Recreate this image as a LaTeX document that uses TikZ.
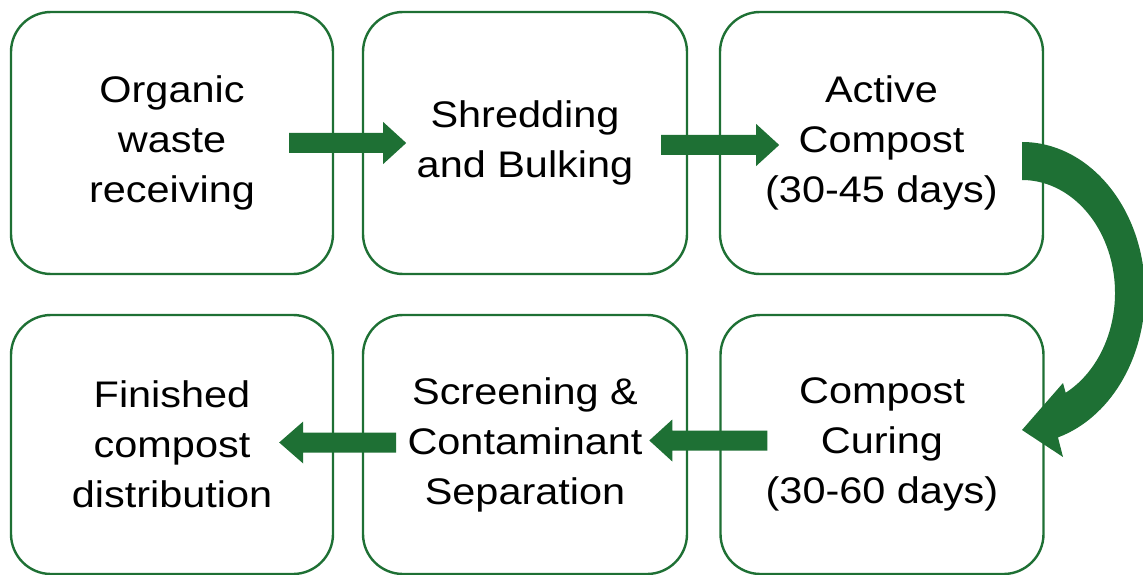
\documentclass[tikz,border=0pt]{standalone}
\usepackage{fontspec}
\setmainfont{Liberation Sans}[FakeStretch=1.12]
\usetikzlibrary{calc}
\definecolor{leaf}{RGB}{30,112,52}
\begin{document}
\begin{tikzpicture}[x=1pt,y=-1pt,
  stage/.style={draw=leaf, line width=2.4pt, rounded corners=40pt, fill=white,
    align=center, inner sep=0pt, font=\fontsize{37}{50}\selectfont,
    minimum width=322pt},
  toprow/.style={stage, minimum height=262pt},
  botrow/.style={stage, minimum height=259pt},
  blockarrow/.style={fill=leaf, draw=none}]
\useasboundingbox (0,0) rectangle (1143,575);
\clip (0,0) rectangle (1143,575);

% process stages
\node[toprow] (receive) at (172,143)   {Organic\\waste\\receiving};
\node[toprow, minimum width=324pt] (shred) at (525,143) {Shredding\\and Bulking};
\node[toprow, minimum width=323pt] (active) at (881.5,143) {Active\\Compost\\(30-45 days)};
\node[botrow] (distrib) at (172,444.5) {Finished\\compost\\distribution};
\node[botrow, minimum width=324pt] (screen) at (525,444.5) {Screening \&\\Contaminant\\Separation};
\node[botrow, minimum width=323pt] (curing) at (882,444.5) {Compost\\Curing\\(30-60 days)};

% straight block arrows between stages
\fill[blockarrow] ($(receive.east)+(-45,-10)$) coordinate (a1) -- ++(94,0) -- ++(0,-11) -- ++(23,21)
  -- ++(-23,21) -- ++(0,-11) -- ++(-94,0) -- cycle;
\fill[blockarrow] ($(shred.east)+(-27,-8)$) coordinate (a2) -- ++(95,0) -- ++(0,-11) -- ++(23,21)
  -- ++(-23,21) -- ++(0,-11) -- ++(-95,0) -- cycle;
\fill[blockarrow] ($(curing.west)+(48,-14)$) coordinate (a3) -- ++(-95,0) -- ++(0,-11) -- ++(-23,21)
  -- ++(23,21) -- ++(0,-11) -- ++(95,0) -- cycle;
\fill[blockarrow] ($(distrib.east)+(62,-12)$) coordinate (a4) -- ++(-93,0) -- ++(0,-11) -- ++(-24,21)
  -- ++(24,21) -- ++(0,-11) -- ++(93,0) -- cycle;

% curved arrow from active composting down to curing
\coordinate (turn) at (1022,293);
\fill[blockarrow] (1022,142)
  arc[start angle=-90, end angle=73, x radius=123, y radius=151]
  -- (1063,457) -- (1022,430) -- (1063,383)
  -- ($(turn)+({93*cos(62)},{113*sin(62)})$)
  arc[start angle=62, end angle=-90, x radius=93, y radius=113]
  -- cycle;
\end{tikzpicture}
\end{document}
